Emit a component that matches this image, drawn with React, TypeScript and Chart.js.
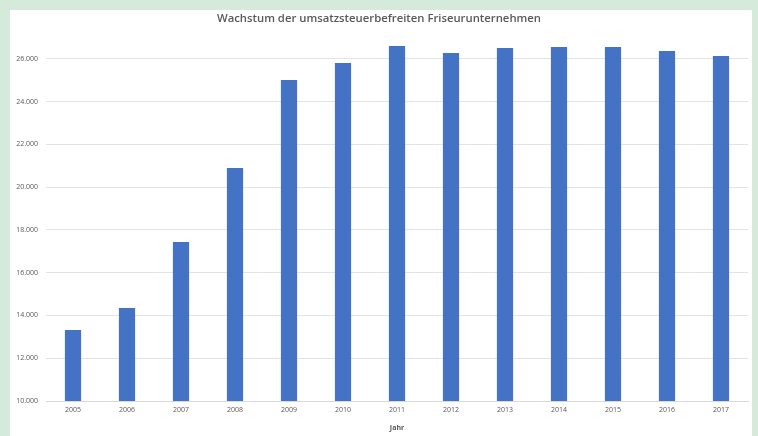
import React, { useEffect, useRef } from "react";
import { Chart, registerables } from "chart.js";

Chart.register(...registerables);

const categories = ["2005", "2006", "2007", "2008", "2009", "2010", "2011", "2012", "2013", "2014", "2015", "2016", "2017"];
const values = [13320, 14350, 17440, 20900, 25020, 25810, 26610, 26280, 26510, 26560, 26560, 26370, 26140];
const yTicks = [10000, 12000, 14000, 16000, 18000, 20000, 22000, 24000, 26000];
const chartTitle = "Wachstum der umsatzsteuerbefreiten Friseurunternehmen";
const xTitle = "Jahr";

export default function App() {
  const ref = useRef<HTMLCanvasElement | null>(null);

  useEffect(() => {
    if (!ref.current) return;
    const chart = new Chart(ref.current, {
      type: "bar",
      data: {
        labels: categories,
        datasets: [
          {
            data: values,
            backgroundColor: "#4472C4",
            categoryPercentage: 1,
            barPercentage: 0.3,
          },
        ],
      },
      options: {
        animation: false,
        responsive: false,
        maintainAspectRatio: false,
        layout: { padding: { left: 0, right: 4, top: 0, bottom: 0 } },
        plugins: {
          legend: { display: false },
          tooltip: { enabled: false },
          title: {
            display: true,
            text: chartTitle,
            color: "#595959",
            font: { family: "Open Sans", size: 11.3, weight: "600" },
            padding: { top: 2, bottom: 12 },
          },
        },
        scales: {
          x: {
            grid: { display: false, drawTicks: false },
            border: { display: true, color: "#d9d9d9" },
            ticks: {
              color: "#595959",
              font: { family: "Open Sans", size: 7 },
              padding: 5,
              maxRotation: 0,
            },
            title: {
              display: true,
              text: xTitle,
              color: "#595959",
              font: { family: "Open Sans", size: 7, weight: "bold" },
              padding: { top: 2, bottom: 4 },
            },
            afterFit: (axis: any) => {
              axis.height = 35;
            },
          },
          y: {
            min: 10000,
            max: 27000,
            grid: { color: "#e3e3e3", drawTicks: false },
            border: { display: false },
            ticks: {
              color: "#595959",
              font: { family: "Open Sans", size: 7 },
              padding: 8,
              callback: (v: any) => Number(v).toLocaleString("de-DE"),
            },
            afterBuildTicks: (axis: any) => {
              axis.ticks = yTicks.map((v) => ({ value: v }));
            },
            afterFit: (axis: any) => {
              axis.width = 36;
            },
          },
        },
      },
    });
    return () => chart.destroy();
  }, []);

  return (
    <div style={{ position: "fixed", left: 0, top: 0, width: 758, height: 436, background: "#d6eadb", overflow: "hidden" }}>
      <div style={{ position: "absolute", left: 10, top: 10, width: 742, height: 426, background: "#ffffff" }}>
        <canvas ref={ref} width={742} height={426} style={{ display: "block" }} />
      </div>
    </div>
  );
}
